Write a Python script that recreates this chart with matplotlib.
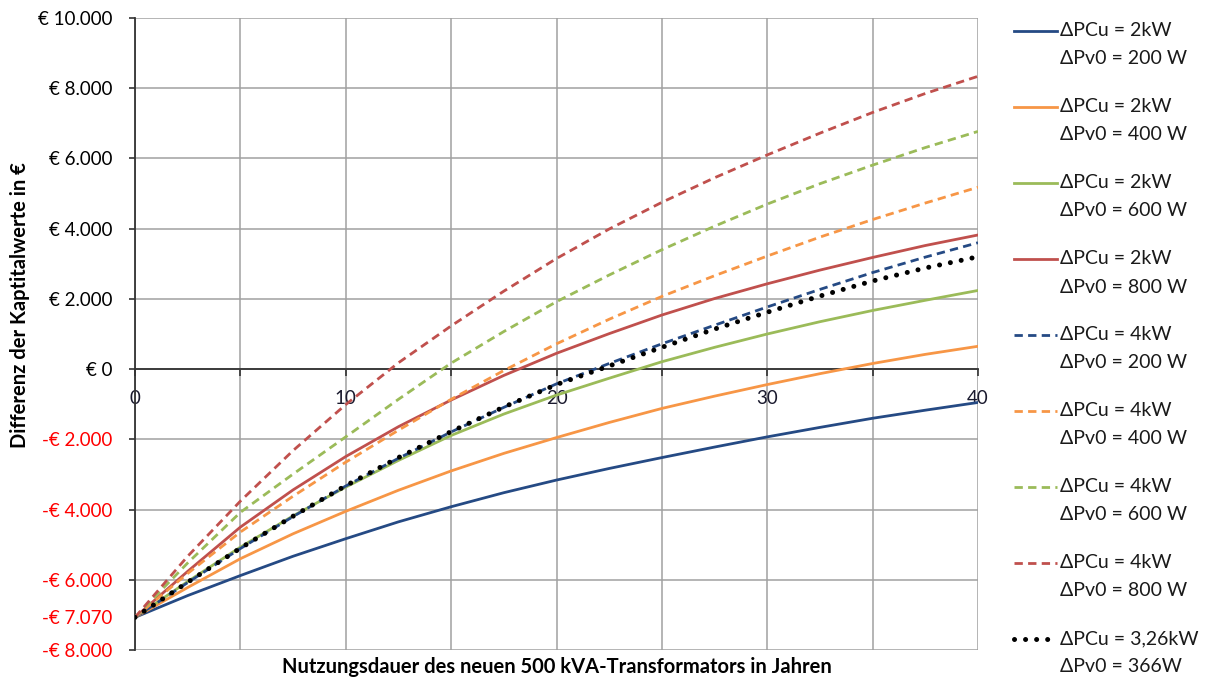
import matplotlib
matplotlib.use("Agg")
import matplotlib.pyplot as plt
from matplotlib.lines import Line2D
from matplotlib.ticker import FixedLocator, FixedFormatter

plt.rcParams['font.family'] = ['Lato', 'DejaVu Sans']

# Service life of the new transformer (years)
years = [0, 2.5, 5, 7.5, 10, 12.5, 15, 17.5, 20,
         22.5, 25, 27.5, 30, 32.5, 35, 37.5, 40]

# Difference of net present values in EUR for each loss combination
cu2_v200 = [-7070, -6450, -5880, -5330, -4830, -4350, -3920, -3520, -3160,
            -2830, -2520, -2220, -1930, -1660, -1400, -1170, -950]
cu2_v400 = [-7070, -6220, -5400, -4690, -4050, -3450, -2900, -2400, -1950,
            -1520, -1120, -770, -440, -130, 160, 420, 650]
cu2_v600 = [-7070, -6050, -5070, -4180, -3360, -2600, -1890, -1280, -740,
            -260, 210, 620, 1000, 1350, 1670, 1960, 2240]
cu2_v800 = [-7070, -5760, -4500, -3440, -2490, -1640, -880, -180, 450,
            1010, 1540, 2010, 2430, 2820, 3180, 3520, 3820]
cu4_v200 = [-7070, -6080, -5110, -4200, -3330, -2540, -1790, -1090, -420,
            160, 720, 1250, 1770, 2270, 2750, 3190, 3600]
cu4_v400 = [-7070, -5820, -4640, -3620, -2650, -1740, -860, -40, 720,
            1420, 2070, 2660, 3220, 3760, 4260, 4730, 5180]
cu4_v600 = [-7070, -5520, -4080, -2990, -1930, -860, 170, 1070, 1920,
            2680, 3400, 4070, 4700, 5280, 5810, 6310, 6770]
cu4_v800 = [-7070, -5330, -3760, -2320, -1010, 180, 1230, 2220, 3150,
            3990, 4750, 5450, 6100, 6720, 7310, 7850, 8340]
cu326_v366 = [-7070, -6070, -5100, -4190, -3320, -2520, -1780, -1080, -440,
              90, 620, 1140, 1620, 2080, 2510, 2880, 3200]

labels_cu = ["ΔPCu = 2kW", "ΔPCu = 2kW", "ΔPCu = 2kW", "ΔPCu = 2kW",
             "ΔPCu = 4kW", "ΔPCu = 4kW", "ΔPCu = 4kW", "ΔPCu = 4kW",
             "ΔPCu = 3,26kW"]
labels_v0 = ["ΔPv0 = 200 W", "ΔPv0 = 400 W", "ΔPv0 = 600 W", "ΔPv0 = 800 W",
             "ΔPv0 = 200 W", "ΔPv0 = 400 W", "ΔPv0 = 600 W", "ΔPv0 = 800 W",
             "ΔPv0 = 366W"]

y_ticks = [10000, 8000, 6000, 4000, 2000, 0, -2000, -4000, -6000, -8000]
y_tick_labels = ["€ 10.000", "€ 8.000", "€ 6.000", "€ 4.000", "€ 2.000", "€ 0",
                 "-€ 2.000", "-€ 4.000", "-€ 6.000", "-€ 8.000"]
invest_value = -7070
invest_label = "-€ 7.070"
x_ticks = [0, 10, 20, 30, 40]
x_minor = [5, 15, 25, 35]

BLUE = "#254a84"
ORANGE = "#f79646"
GREEN = "#9bbb59"
RED = "#c0504d"

solid = dict(ls="-", lw=2.0)
dashed = dict(ls=(0, (3.0, 1.9)), lw=2.0)
dotted = dict(ls=(0, (0.01, 2.2)), lw=3.6, dash_capstyle="round")

series = [
    (cu2_v200, BLUE, solid), (cu2_v400, ORANGE, solid),
    (cu2_v600, GREEN, solid), (cu2_v800, RED, solid),
    (cu4_v200, BLUE, dashed), (cu4_v400, ORANGE, dashed),
    (cu4_v600, GREEN, dashed), (cu4_v800, RED, dashed),
    (cu326_v366, "black", dotted),
]

W, H = 1205, 680
fig = plt.figure(figsize=(W / 100, H / 100), dpi=100)
ax = fig.add_axes([135 / W, 1 - 650 / H, (978 - 135) / W, (650 - 18) / H])

for vals, col, st in series:
    ax.plot(years, vals, color=col, **st, zorder=3)

ax.set_xlim(0, 40)
ax.set_ylim(-8000, 10000)

# grid
ax.set_xticks(x_ticks)
ax.xaxis.set_minor_locator(FixedLocator(x_minor))
ax.set_yticks(y_ticks)
ax.set_yticklabels(y_tick_labels)
ax.grid(axis="x", which="both", color="#a0a0a0", lw=1.1, zorder=0)
ax.grid(axis="y", which="major", color="#a0a0a0", lw=1.1, zorder=0)

ax.yaxis.set_minor_locator(FixedLocator([invest_value]))
ax.yaxis.set_minor_formatter(FixedFormatter([invest_label]))

for s in ("top", "right"):
    ax.spines[s].set_visible(False)
ax.spines["bottom"].set_position(("data", 0))
ax.spines["bottom"].set_color("#333333")
ax.spines["bottom"].set_linewidth(1.3)
ax.spines["left"].set_color("#333333")
ax.spines["left"].set_linewidth(1.3)
ax.spines["bottom"].set_zorder(2)

ax.tick_params(axis="y", which="major", length=4, width=1.2, color="#333333",
               labelsize=13.5, pad=12)
ax.tick_params(axis="y", which="minor", length=0, labelsize=13.5, pad=16)
ax.tick_params(axis="x", which="both", length=5, width=1.2, color="#333333",
               direction="out", labelsize=13.5, pad=10)
for lab, v in zip(ax.get_yticklabels(), y_ticks):
    lab.set_color("red" if v < 0 else "black")
for lab in ax.get_yticklabels(minor=True):
    lab.set_color("red")
for lab in ax.get_xticklabels():
    lab.set_color("#1a1a2e")

fig.text(20 / W, 1 - 305 / H, "Differenz der Kaptitalwerte in €", rotation=90,
         ha="center", va="center", fontsize=14.5, fontweight="bold")
fig.text(557 / W, 1 - 667 / H,
         "Nutzungsdauer des neuen 500 kVA-Transformators in Jahren",
         ha="center", va="center", fontsize=14.5, fontweight="bold")

# legend drawn on the right, handle aligned with the first text line
for i, ((vals, col, st), l1, l2) in enumerate(zip(series, labels_cu, labels_v0)):
    y0 = 31 + i * 76
    fig.add_artist(Line2D([1014 / W, 1057 / W], [1 - y0 / H, 1 - y0 / H],
                          color=col, **st))
    fig.text(1060 / W, 1 - y0 / H, l1, ha="left", va="center", fontsize=14,
             color="#1a1a1a")
    fig.text(1060 / W, 1 - (y0 + 28) / H, l2, ha="left", va="center",
             fontsize=14, color="#1a1a1a")

fig.savefig("out.png", dpi=100)
